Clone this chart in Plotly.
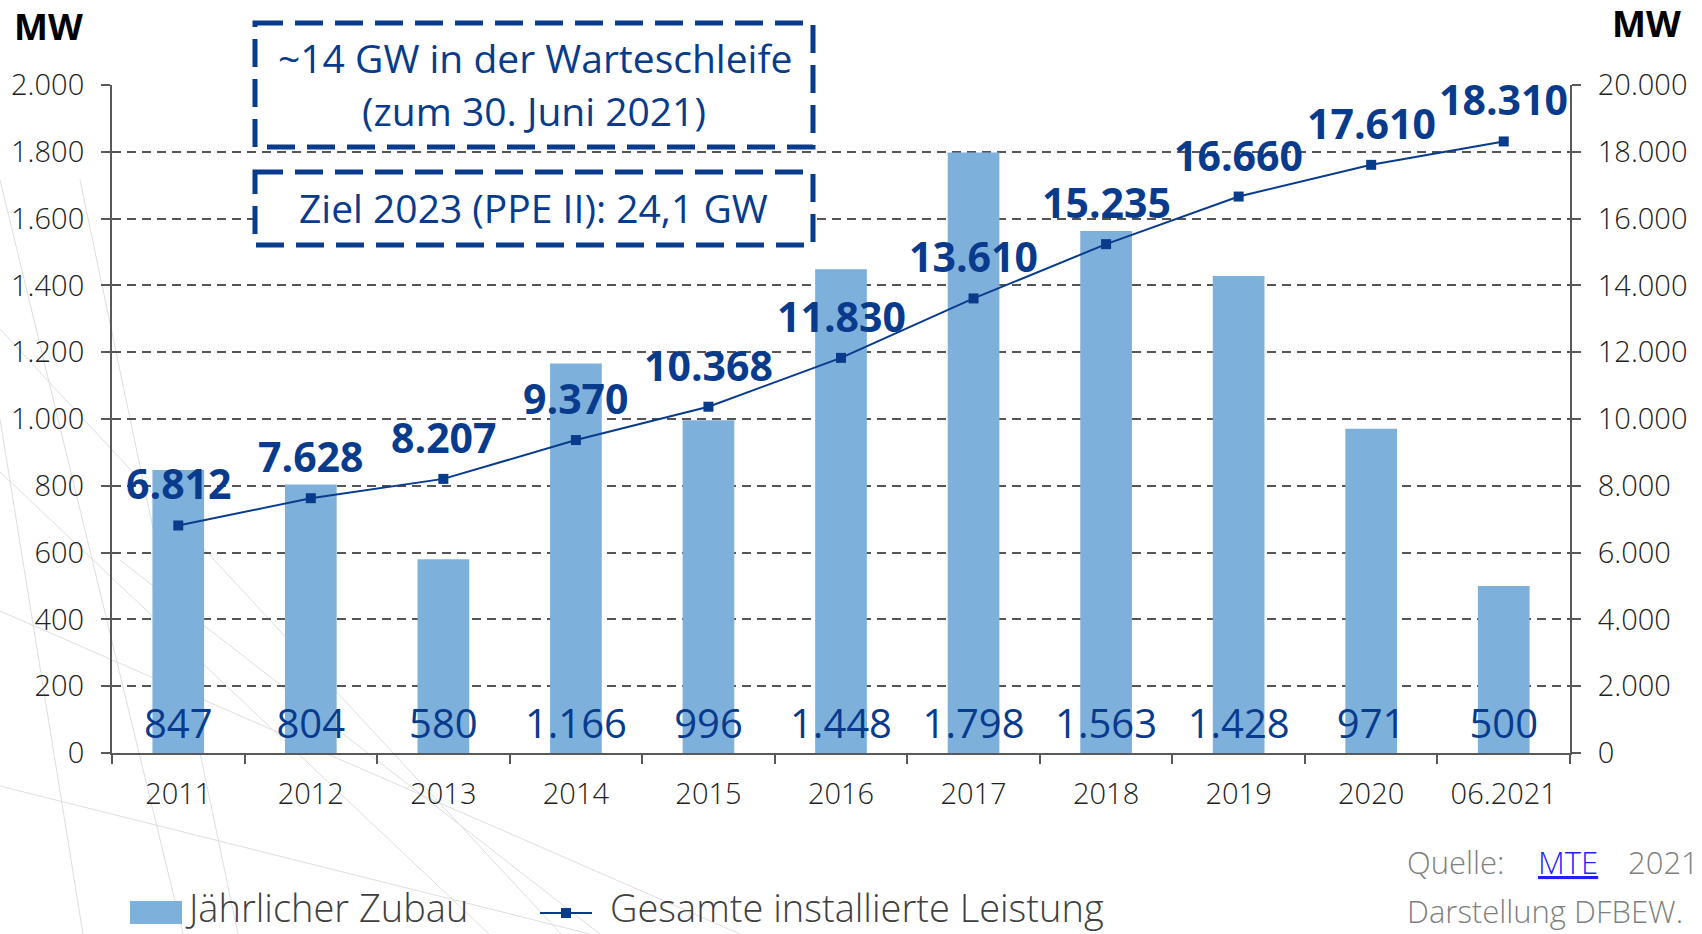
import plotly.graph_objects as go

# ---------------- data ----------------
categories = ["2011", "2012", "2013", "2014", "2015", "2016", "2017", "2018", "2019", "2020", "06.2021"]
annual_mw = [847, 804, 580, 1166, 996, 1448, 1798, 1563, 1428, 971, 500]
cumulative_mw = [6812, 7628, 8207, 9370, 10368, 11830, 13610, 15235, 16660, 17610, 18310]
left_ticks = [0, 200, 400, 600, 800, 1000, 1200, 1400, 1600, 1800, 2000]
right_ticks = [0, 2000, 4000, 6000, 8000, 10000, 12000, 14000, 16000, 18000, 20000]
series_names = ["Jährlicher Zubau", "Gesamte installierte Leistung"]
box1_lines = ["~14 GW in der Warteschleife", "(zum 30. Juni 2021)"]
box2_text = "Ziel 2023 (PPE II): 24,1 GW"
unit = "MW"


def de(n):
    return f"{n:,}".replace(",", ".")


# ---------------- geometry helpers (pixel -> paper) ----------------
W, H = 1702, 934
L, R, T, B = 112, 1570, 85, 753


def px(x):
    return (x - L) / (R - L)


def py(y):
    return (B - y) / (B - T)


BAR = "#7eb0dc"
NAVY = "#083b8c"
AXIS = "#595959"
FONT = "Open Sans"

fig = go.Figure()
fig.add_trace(go.Bar(
    x=categories, y=annual_mw, name=series_names[0],
    marker=dict(color=BAR, line=dict(width=0)),
    texttemplate="%{y:,d}", textposition="inside", insidetextanchor="start",
    textangle=0, constraintext="none",
    insidetextfont=dict(family=FONT, size=40, color=NAVY),
    yaxis="y", showlegend=False, hoverinfo="skip",
))
fig.add_trace(go.Scatter(
    x=categories, y=cumulative_mw, name=series_names[1], mode="lines+markers",
    line=dict(color=NAVY, width=2),
    marker=dict(symbol="square", size=10, color=NAVY),
    yaxis="y2", showlegend=False,
))

annotations = []
# value labels on the cumulative line (x given as category index on the category axis)
for i, v in enumerate(cumulative_mw):
    annotations.append(dict(
        x=i, y=v, xref="x", yref="y2", text=f"<b>{de(v)}</b>", showarrow=False,
        yshift=42, font=dict(family=FONT, size=41, color=NAVY),
    ))

# axis unit titles
annotations.append(dict(x=px(48), y=py(26), xref="paper", yref="paper", text=f"<b>{unit}</b>",
                        showarrow=False, xanchor="center", yanchor="middle",
                        font=dict(family=FONT, size=36, color="#000000")))
annotations.append(dict(x=px(1647), y=py(23), xref="paper", yref="paper", text=f"<b>{unit}</b>",
                        showarrow=False, xanchor="center", yanchor="middle",
                        font=dict(family=FONT, size=36, color="#000000")))

# boxed notes
box_font = dict(family=FONT, size=39, color=NAVY)
annotations.append(dict(x=px(535), y=py(58), xref="paper", yref="paper", text=box1_lines[0],
                        showarrow=False, xanchor="center", yanchor="middle", font=box_font))
annotations.append(dict(x=px(534), y=py(110), xref="paper", yref="paper", text=box1_lines[1],
                        showarrow=False, xanchor="center", yanchor="middle", font=box_font))
annotations.append(dict(x=px(533), y=py(207), xref="paper", yref="paper", text=box2_text,
                        showarrow=False, xanchor="center", yanchor="middle", font=box_font))

# manual legend
leg_font = dict(family=FONT, size=38, color="#404040", weight=300)
annotations.append(dict(x=px(183), y=py(907), xref="paper", yref="paper", text=series_names[0],
                        showarrow=False, xanchor="left", yanchor="middle", font=leg_font))
annotations.append(dict(x=px(608), y=py(907), xref="paper", yref="paper", text=series_names[1],
                        showarrow=False, xanchor="left", yanchor="middle", font=leg_font))

# source
src_font = dict(family=FONT, size=31, color="#7f7f7f", weight=300)
annotations.append(dict(x=px(1405), y=py(862), xref="paper", yref="paper", text="Quelle:",
                        showarrow=False, xanchor="left", yanchor="middle", font=src_font))
annotations.append(dict(x=px(1536), y=py(862), xref="paper", yref="paper",
                        text="<span style='color:#1f1fff'><u>MTE</u></span>",
                        showarrow=False, xanchor="left", yanchor="middle", font=src_font))
annotations.append(dict(x=px(1626), y=py(862), xref="paper", yref="paper", text="2021",
                        showarrow=False, xanchor="left", yanchor="middle", font=src_font))
annotations.append(dict(x=px(1405), y=py(911), xref="paper", yref="paper", text="Darstellung DFBEW.",
                        showarrow=False, xanchor="left", yanchor="middle", font=src_font))

shapes = []
# faint decorative background lines
bg_lines = [((0, 180), (183, 934)), ((0, 329), (561, 934)), ((0, 472), (489, 934)),
            ((0, 611), (740, 934)), ((0, 786), (590, 934)), ((0, 419), (83, 934)),
            ((80, 180), (238, 934)), ((120, 560), (600, 934))]
for (x0, y0), (x1, y1) in bg_lines:
    shapes.append(dict(type="line", xref="paper", yref="paper", x0=px(x0), y0=py(y0), x1=px(x1), y1=py(y1),
                       line=dict(color="#dedede", width=1), layer="below"))

# dashed boxes (white filled, covering the grid)
for (x0, y0, x1, y1) in [(255, 23, 813, 147), (255, 172, 813, 245)]:
    shapes.append(dict(type="rect", xref="paper", yref="paper", x0=px(x0), y0=py(y0), x1=px(x1), y1=py(y1),
                       line=dict(color=NAVY, width=5, dash="28px,12px"), fillcolor="white", layer="above"))

# legend swatches
shapes.append(dict(type="rect", xref="paper", yref="paper", x0=px(130), x1=px(182), y0=py(901), y1=py(924),
                   line=dict(width=0), fillcolor=BAR))
shapes.append(dict(type="line", xref="paper", yref="paper", x0=px(540), x1=px(592), y0=py(913), y1=py(913),
                   line=dict(color=NAVY, width=2)))
shapes.append(dict(type="rect", xref="paper", yref="paper", x0=px(561), x1=px(571), y0=py(908), y1=py(918),
                   line=dict(width=0), fillcolor=NAVY))

tick_font = dict(family=FONT, size=29, color="#222222", weight=300)

fig.update_layout(
    width=W, height=H, autosize=False,
    margin=dict(l=L, r=W - R, t=T, b=H - B, pad=0),
    paper_bgcolor="white", plot_bgcolor="rgba(0,0,0,0)",
    separators=",.",
    bargap=0.61,
    showlegend=False,
    xaxis=dict(type="category", range=[-0.5, 10.5], showline=True, linecolor=AXIS, linewidth=2,
               ticks="outside", tickson="boundaries", ticklen=9, tickwidth=2, tickcolor=AXIS,
               tickfont=tick_font, ticklabelstandoff=14, showgrid=False, zeroline=False),
    yaxis=dict(range=[0, 2000], tickvals=left_ticks, tickformat=",d", showline=True, linecolor=AXIS,
               linewidth=2, ticks="outside", ticklen=9, tickwidth=2, tickcolor=AXIS, tickfont=tick_font,
               ticklabelstandoff=11,
               showgrid=True, gridcolor="#555555", gridwidth=2, griddash="9px,6px", zeroline=False),
    yaxis2=dict(range=[0, 20000], tickvals=right_ticks, tickformat=",d", overlaying="y", side="right",
                showline=True, linecolor=AXIS, linewidth=2, ticks="outside", ticklen=9, tickwidth=2,
                tickcolor=AXIS, tickfont=tick_font, ticklabelstandoff=11, showgrid=False, zeroline=False),
    annotations=annotations,
    shapes=shapes,
)

fig.write_html("out.html", config={"displayModeBar": False},
               post_script="document.body.style.margin='0';document.body.style.overflow='hidden';")
